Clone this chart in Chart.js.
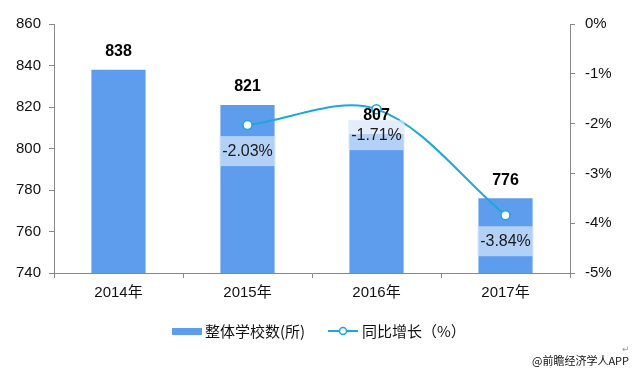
<!DOCTYPE html>
<html>
<head>
<meta charset="utf-8">
<script src="https://cdn.jsdelivr.net/npm/chart.js@4/dist/chart.umd.min.js"></script>
<style>
  html, body { margin: 0; padding: 0; background: #fff; }
  #wrap { width: 639px; height: 378px; position: relative; }
</style>
</head>
<body>
<div id="wrap"><canvas id="myChart" width="639" height="378"></canvas></div>
<script>
const years = ['2014年', '2015年', '2016年', '2017年'];
const schools = [838, 821, 807, 776];
const growth = [null, -2.03, -1.71, -3.84];
const leftTicks = [740, 760, 780, 800, 820, 840, 860];
const rightTicks = [-5, -4, -3, -2, -1, 0];

const barColor = '#5E9DEE';
const lineColor = '#1EA7DA';
const font = "Arial, 'Liberation Sans', 'Noto Sans CJK SC', sans-serif";

// value labels: bold numbers above bars, boxed percents under the points
const labelPlugin = {
  id: 'labels',
  afterDatasetsDraw(chart) {
    const ctx = chart.ctx;
    const bars = chart.getDatasetMeta(0).data;
    const pts = chart.getDatasetMeta(1).data;
    ctx.save();
    ctx.textAlign = 'center';
    ctx.textBaseline = 'middle';
    pts.forEach((p, i) => {
      if (growth[i] === null) return;
      const b = bars[i];
      const w = b.width + 2;
      const cy = p.y + 26;
      ctx.fillStyle = 'rgba(215,230,250,0.7)';
      ctx.fillRect(b.x - w / 2, cy - 15, w, 30);
      ctx.fillStyle = '#1a1a1a';
      ctx.font = '16px ' + font;
      ctx.fillText(growth[i].toFixed(2) + '%', b.x, cy);
    });
    bars.forEach((b, i) => {
      ctx.fillStyle = '#000';
      ctx.font = 'bold 16px ' + font;
      ctx.fillText(schools[i], b.x, b.y - 18);
    });
    ctx.restore();
  }
};

// legend and source line drawn by hand
const legendPlugin = {
  id: 'customLegend',
  afterDraw(chart) {
    const ctx = chart.ctx;
    ctx.save();
    const y = 331;
    ctx.fillStyle = barColor;
    ctx.fillRect(172, y - 3, 30, 7);
    ctx.fillStyle = '#111';
    ctx.font = "15px 'Noto Sans CJK SC', sans-serif";
    ctx.textBaseline = 'middle';
    ctx.textAlign = 'left';
    ctx.fillText('整体学校数(所)', 205, y);
    ctx.strokeStyle = lineColor;
    ctx.lineWidth = 2;
    ctx.beginPath();
    ctx.moveTo(328, y);
    ctx.lineTo(358, y);
    ctx.stroke();
    ctx.beginPath();
    ctx.arc(343, y, 3.5, 0, Math.PI * 2);
    ctx.fillStyle = '#fff';
    ctx.fill();
    ctx.lineWidth = 1.5;
    ctx.stroke();
    ctx.fillStyle = '#111';
    ctx.fillText('同比增长（%）', 362, y);
    ctx.font = "11px 'Noto Sans CJK SC', sans-serif";
    ctx.fillText('@前瞻经济学人APP', 532, 361);
    ctx.fillStyle = '#999';
    ctx.font = "9px 'DejaVu Sans', sans-serif";
    ctx.fillText('↵', 622, 350);
    ctx.restore();
  }
};

const ctx = document.getElementById('myChart').getContext('2d');
const myChart = new Chart(ctx, {
  type: 'bar',
  data: {
    labels: years,
    datasets: [
      {
        label: '整体学校数(所)',
        data: schools,
        backgroundColor: barColor,
        yAxisID: 'y',
        categoryPercentage: 1,
        barPercentage: 0.42,
        order: 2
      },
      {
        label: '同比增长（%）',
        type: 'line',
        data: growth,
        yAxisID: 'y1',
        borderColor: lineColor,
        borderWidth: 2,
        tension: 0.33,
        pointRadius: 4.5,
        pointBackgroundColor: '#fff',
        pointBorderColor: lineColor,
        pointBorderWidth: 1.5,
        order: 1
      }
    ]
  },
  options: {
    responsive: false,
    animation: false,
    layout: { padding: { top: 24, bottom: 70 } },
    plugins: { legend: { display: false }, tooltip: { enabled: false } },
    scales: {
      x: {
        grid: { display: true, drawOnChartArea: false, offset: true, color: '#888', tickLength: 5 },
        border: { color: '#888' },
        ticks: { color: '#111', font: { size: 15, family: font }, padding: 6 }
      },
      y: {
        position: 'left',
        min: 740,
        max: 860,
        afterBuildTicks: (s) => { s.ticks = leftTicks.map(v => ({ value: v })); },
        afterFit: (s) => { s.width = 54; },
        grid: { drawOnChartArea: false, color: '#888', tickLength: 5 },
        border: { color: '#888' },
        ticks: { color: '#111', font: { size: 15, family: font }, padding: 8 }
      },
      y1: {
        position: 'right',
        min: -5,
        max: 0,
        afterBuildTicks: (s) => { s.ticks = rightTicks.map(v => ({ value: v })); },
        afterFit: (s) => { s.width = 69; },
        grid: { drawOnChartArea: false, color: '#888', tickLength: 5 },
        border: { color: '#888' },
        ticks: { color: '#111', font: { size: 15, family: font }, padding: 10,
          callback: (v) => v + '%' }
      }
    }
  },
  plugins: [labelPlugin, legendPlugin]
});
</script>
</body>
</html>
